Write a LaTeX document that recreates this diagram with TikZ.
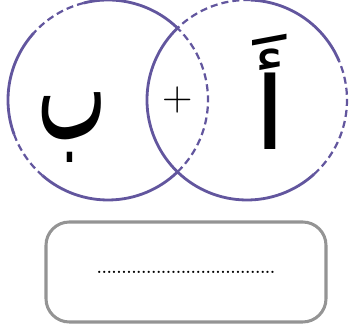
\documentclass[tikz,border=0pt]{standalone}
\usepackage{fontspec}
\usepackage{graphicx}
\newfontfamily\arabicfont[Script=Arabic]{DejaVu Sans}
\TeXXeTstate=1
\usetikzlibrary{positioning}

\begin{document}
\begin{tikzpicture}[
  x=0.3mm, y=0.3mm,
  solidarc/.style={draw=ring, line width=2.4pt},
  dasharc/.style={draw=ring, line width=1.9pt, dash pattern=on 6pt off 3.5pt},
  letter/.style={inner sep=0pt, font=\arabicfont},
  answer/.style={draw=black!42, line width=2.6pt, rounded corners=7mm,
                 minimum width=84mm, minimum height=30mm, inner sep=0pt,
                 font=\bfseries\fontsize{13.5}{13.5}\selectfont}
]
\definecolor{ring}{RGB}{98,86,158}
\useasboundingbox (0,0) rectangle (351,332);

% === TWO CIRCLES ===
\coordinate (lc) at (108,232);
\coordinate (rc) at (247,232);

% left circle: solid and dashed pieces
\foreach \a/\b/\s in {46/104/solidarc, 104/138/dasharc, 138/200/solidarc,
                      200/229/dasharc, 229/314/solidarc, 314/406/dasharc}
  \draw[\s] ([shift={(\a:30mm)}]lc) arc[start angle=\a, end angle=\b, radius=30mm];

% right circle: solid and dashed pieces
\foreach \a/\b/\s in {-134/-48/solidarc, -48/23/dasharc, 23/88/solidarc,
                      88/134/dasharc, 134/226/solidarc}
  \draw[\s] ([shift={(\a:30mm)}]rc) arc[start angle=\a, end angle=\b, radius=30mm];

% === LETTERS ===
\node[letter, font=\arabicfont\fontsize{60}{60}\selectfont] (beh) at (72,204)
  {\scalebox{1.05}[2]{\beginR ب\endR}};
\node[letter, font=\arabicfont\fontsize{86}{86}\selectfont] (alef) at (270,240)
  {\scalebox{1.2}[1]{\beginR أَ\endR}};
\node[inner sep=0pt, font=\fontsize{36}{36}\selectfont] (plus) at (178,232) {+};

% === ANSWER BOX ===
\node[answer] (box) at (186,60) {....................................};

\end{tikzpicture}
\end{document}
